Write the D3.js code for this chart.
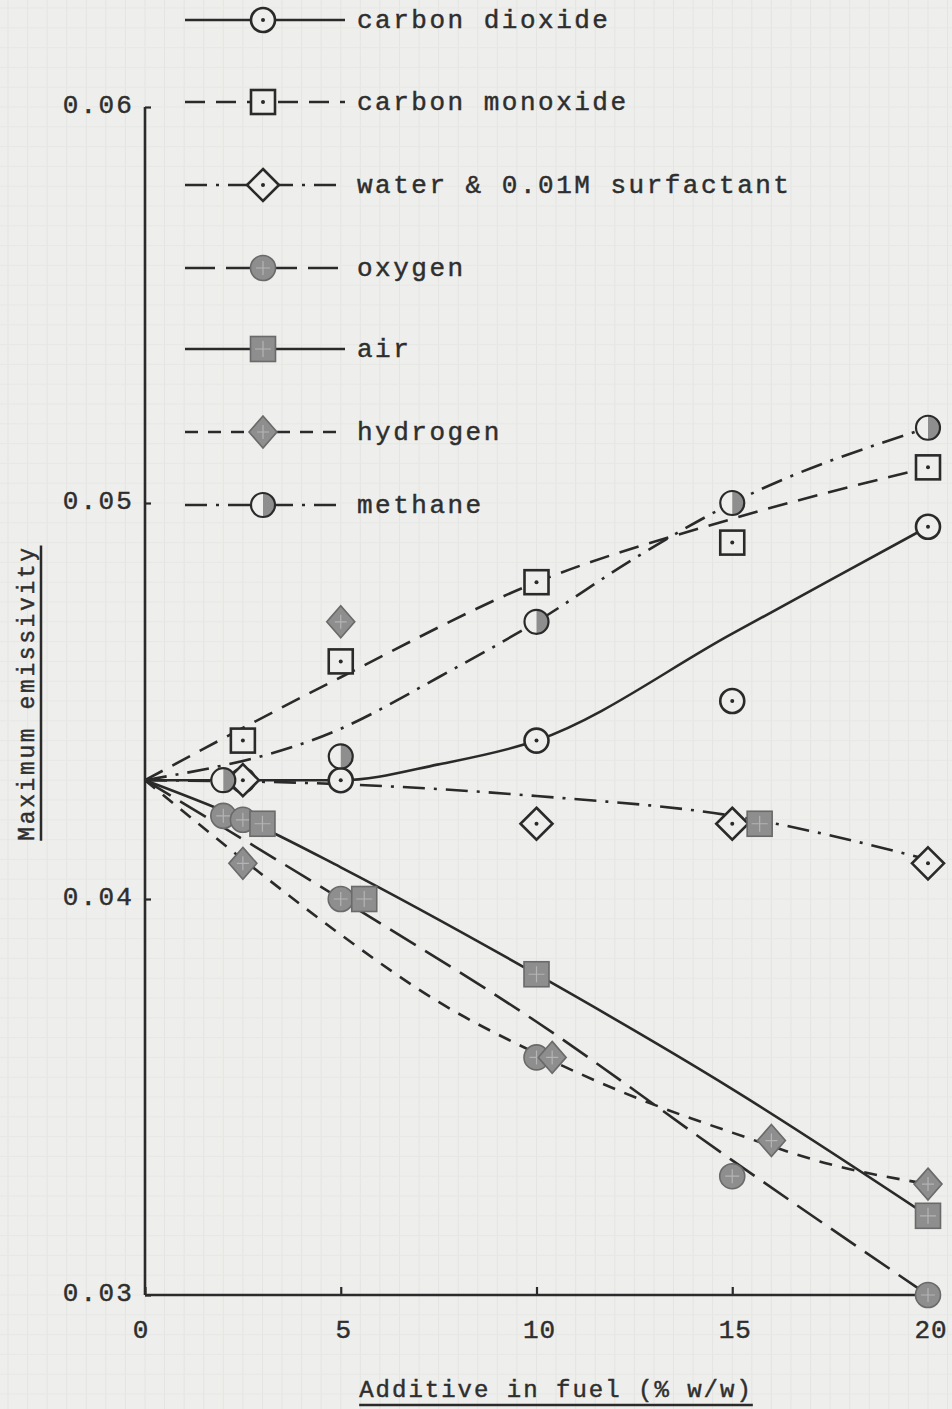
<!DOCTYPE html>
<html>
<head>
<meta charset="utf-8">
<script src="https://cdn.jsdelivr.net/npm/d3@7"></script>
<style>
  html, body { margin: 0; padding: 0; background: #eeeeec; }
  svg { display: block; }
  text { font-family: "Liberation Mono", "DejaVu Sans Mono", monospace; fill: #2e2e2e; stroke: #2e2e2e; stroke-width: 0.45px; }
</style>
</head>
<body>
<svg id="chart" width="952" height="1409"></svg>
<script>
// Series names, in legend order
const categories = [
  "carbon dioxide",
  "carbon monoxide",
  "water & 0.01M surfactant",
  "oxygen",
  "air",
  "hydrogen",
  "methane"
];

// Measured points [additive % w/w, maximum emissivity]
const co2Points      = [[2.5, 0.0430], [5, 0.0430], [10, 0.0440], [15, 0.0450], [20, 0.0494]];
const coPoints       = [[2.5, 0.0440], [5, 0.0460], [10, 0.0480], [15, 0.0490], [20, 0.0509]];
const waterPoints    = [[2.5, 0.0430], [10, 0.0419], [15, 0.0419], [20, 0.0409]];
const oxygenPoints   = [[2, 0.0421], [2.5, 0.0420], [5, 0.0400], [10, 0.0360], [15, 0.0330], [20, 0.0300]];
const airPoints      = [[3, 0.0419], [5.6, 0.0400], [10, 0.0381], [15.7, 0.0419], [20, 0.0320]];
const hydrogenPoints = [[2.5, 0.0409], [5, 0.0470], [10.4, 0.0360], [16, 0.0339], [20, 0.0328]];
const methanePoints  = [[2, 0.0430], [5, 0.0436], [10, 0.0470], [15, 0.0500], [20, 0.0519]];

// Hand-fitted curves through each series, all starting from the additive-free fuel value
const co2Curve      = [[0, 0.0430], [5, 0.0430], [7.5, 0.0434], [10, 0.0440], [15, 0.0467], [20, 0.0494]];
const coCurve       = [[0, 0.0430], [5, 0.0456], [10, 0.0480], [15, 0.0496], [20, 0.0509]];
const waterCurve    = [[0, 0.0430], [5, 0.0429], [10, 0.0426], [15, 0.0421], [20, 0.0410]];
const oxygenCurve   = [[0, 0.0430], [5, 0.0400], [10, 0.0369], [15, 0.0334], [20, 0.0300]];
const airCurve      = [[0, 0.0430], [3, 0.0418], [5, 0.0408], [10, 0.0381], [15, 0.0352], [20, 0.0320]];
const hydrogenCurve = [[0, 0.0430], [2.5, 0.0410], [5, 0.0391], [7.5, 0.0374], [10, 0.0361], [12.5, 0.0350], [15, 0.0341], [17.5, 0.0333], [20, 0.0328]];
const methaneCurve  = [[0, 0.0430], [5, 0.0443], [7.5, 0.0456], [10, 0.0470], [12.5, 0.0486], [15, 0.0500], [20, 0.0519]];

// Axis ticks
const xTicks = [0, 5, 10, 15, 20];
const yTicks = [0.03, 0.04, 0.05, 0.06];
const yTickLabels = ["0.03", "0.04", "0.05", "0.06"];

const xTitle = "Additive in fuel (% w/w)";
const yTitle = "Maximum emissivity";

// Series styling (line dash + marker)
const styles = {
  "carbon dioxide":           { dash: null,            marker: "circleOpen" },
  "carbon monoxide":          { dash: "20,11",         marker: "squareOpen" },
  "water & 0.01M surfactant": { dash: "22,9,3,9",      marker: "diamondOpen" },
  "oxygen":                   { dash: "30,11",         marker: "circleFilled" },
  "air":                      { dash: null,            marker: "squareFilled" },
  "hydrogen":                 { dash: "13,10",         marker: "diamondFilled" },
  "methane":                  { dash: "22,9,3,9",      marker: "circleHalf" }
};

const series = [
  { name: categories[0], points: co2Points,      curve: co2Curve },
  { name: categories[1], points: coPoints,       curve: coCurve },
  { name: categories[2], points: waterPoints,    curve: waterCurve },
  { name: categories[3], points: oxygenPoints,   curve: oxygenCurve },
  { name: categories[4], points: airPoints,      curve: airCurve },
  { name: categories[5], points: hydrogenPoints, curve: hydrogenCurve },
  { name: categories[6], points: methanePoints,  curve: methaneCurve }
];

const svg = d3.select("#chart");
const W = 952, H = 1409;
const ink = "#2a2a2a";
const paper = "#eeeeec";

const x = d3.scaleLinear().domain([0, 20]).range([145, 928]);
const y = d3.scaleLinear().domain([0.03, 0.06]).range([1295, 107]);

// Faint graph-paper ruling
const paperG = svg.append("g");
paperG.selectAll("line.v").data(d3.range(-7, 49)).join("line")
  .attr("x1", d => x(d * 0.5)).attr("x2", d => x(d * 0.5))
  .attr("y1", 0).attr("y2", H)
  .attr("stroke", "#e4e4e2").attr("stroke-width", 1);
paperG.selectAll("line.h").data(d3.range(-5, 75)).join("line")
  .attr("y1", d => y(0.03 + d * 0.0005)).attr("y2", d => y(0.03 + d * 0.0005))
  .attr("x1", 0).attr("x2", W)
  .attr("stroke", "#e7e7e5").attr("stroke-width", 1);

// Axes
const axisG = svg.append("g");
axisG.append("line")
  .attr("x1", x(0)).attr("x2", x(0)).attr("y1", y(0.06)).attr("y2", y(0.03))
  .attr("stroke", ink).attr("stroke-width", 2.6);
axisG.append("line")
  .attr("x1", x(0)).attr("x2", x(20)).attr("y1", y(0.03)).attr("y2", y(0.03))
  .attr("stroke", ink).attr("stroke-width", 2.6);

const xAxis = d3.axisTop(x).tickValues(xTicks).tickSize(8).tickFormat("");
const xg = axisG.append("g").attr("transform", `translate(0,${y(0.03)})`).call(xAxis);
xg.select(".domain").remove();
xg.selectAll(".tick line").attr("stroke", ink).attr("stroke-width", 2.2);

const yAxis = d3.axisRight(y).tickValues(yTicks).tickSize(6).tickFormat("");
const yg = axisG.append("g").attr("transform", `translate(${x(0)},0)`).call(yAxis);
yg.select(".domain").remove();
yg.selectAll(".tick line").attr("stroke", ink).attr("stroke-width", 2.2);

// Tick labels
axisG.selectAll("text.xt").data(xTicks).join("text")
  .attr("x", d => x(d) + (d === 0 ? -4 : 3))
  .attr("y", 1338)
  .attr("text-anchor", "middle")
  .attr("font-size", 26)
  .attr("letter-spacing", 1)
  .text(d => d);

axisG.selectAll("text.yt").data(yTicks).join("text")
  .attr("x", 134)
  .attr("y", d => y(d) + 6)
  .attr("text-anchor", "end")
  .attr("font-size", 26)
  .attr("letter-spacing", 2.2)
  .text((d, i) => yTickLabels[i]);

// Axis titles, underlined
const xt = axisG.append("text")
  .attr("x", 556).attr("y", 1397)
  .attr("text-anchor", "middle")
  .attr("font-size", 24)
  .attr("letter-spacing", 2.0)
  .text(xTitle);
const xtw = xt.node().getComputedTextLength();
axisG.append("line")
  .attr("x1", 556 - xtw / 2).attr("x2", 556 + xtw / 2)
  .attr("y1", 1405).attr("y2", 1405)
  .attr("stroke", ink).attr("stroke-width", 2.5);

const yt = axisG.append("text")
  .attr("transform", "translate(34,693) rotate(-90)")
  .attr("text-anchor", "middle")
  .attr("font-size", 23)
  .attr("letter-spacing", 2.6)
  .text(yTitle);
const ytw = yt.node().getComputedTextLength();
axisG.append("line")
  .attr("x1", 41).attr("x2", 41)
  .attr("y1", 693 - ytw / 2).attr("y2", 693 + ytw / 2)
  .attr("stroke", ink).attr("stroke-width", 2.5);

// Fitted lines
const line = d3.line()
  .x(d => x(d[0]))
  .y(d => y(d[1]))
  .curve(d3.curveMonotoneX);

const linesG = svg.append("g");
series.forEach(s => {
  linesG.append("path")
    .attr("d", line(s.curve))
    .attr("fill", "none")
    .attr("stroke", ink)
    .attr("stroke-width", 2.6)
    .attr("stroke-dasharray", styles[s.name].dash)
    .attr("stroke-linecap", "butt");
});

// Marker drawing
const grayFill = "#8e8e8e";
const grayEdge = "#6a6a6a";

function drawMarker(g, type, cx, cy) {
  const m = g.append("g").attr("transform", `translate(${cx},${cy})`);
  if (type === "circleOpen") {
    m.append("circle").attr("r", 12).attr("fill", paper).attr("stroke", ink).attr("stroke-width", 2.6);
    m.append("circle").attr("r", 2).attr("fill", ink);
  } else if (type === "squareOpen") {
    m.append("rect").attr("x", -12).attr("y", -12).attr("width", 24).attr("height", 24)
      .attr("fill", paper).attr("stroke", ink).attr("stroke-width", 2.6);
    m.append("circle").attr("r", 2).attr("fill", ink);
  } else if (type === "diamondOpen") {
    m.append("path").attr("d", "M0,-16L16,0L0,16L-16,0Z")
      .attr("fill", paper).attr("stroke", ink).attr("stroke-width", 2.6);
    m.append("circle").attr("r", 2).attr("fill", ink);
  } else if (type === "circleFilled") {
    m.append("circle").attr("r", 12.5).attr("fill", grayFill).attr("stroke", grayEdge).attr("stroke-width", 1.6);
    m.append("path").attr("d", "M-7,0H7M0,-7V7").attr("stroke", "#b4b4b4").attr("stroke-width", 1.2);
  } else if (type === "squareFilled") {
    m.append("rect").attr("x", -12.5).attr("y", -12.5).attr("width", 25).attr("height", 25)
      .attr("fill", grayFill).attr("stroke", grayEdge).attr("stroke-width", 1.6);
    m.append("path").attr("d", "M-8,0H8M0,-8V8").attr("stroke", "#b4b4b4").attr("stroke-width", 1.2);
  } else if (type === "diamondFilled") {
    m.append("path").attr("d", "M0,-16L14,0L0,16L-14,0Z")
      .attr("fill", grayFill).attr("stroke", grayEdge).attr("stroke-width", 1.6);
    m.append("path").attr("d", "M-6,0H6M0,-7V7").attr("stroke", "#b4b4b4").attr("stroke-width", 1.2);
  } else if (type === "circleHalf") {
    m.append("circle").attr("r", 12).attr("fill", paper);
    m.append("path").attr("d", "M0,-12A12,12 0 0,1 0,12Z").attr("fill", grayFill);
    m.append("circle").attr("r", 12).attr("fill", "none").attr("stroke", ink).attr("stroke-width", 2.2);
  }
  return m;
}

const markersG = svg.append("g");
series.forEach(s => {
  s.points.forEach(p => drawMarker(markersG, styles[s.name].marker, x(p[0]), y(p[1])));
});

// Legend
const legendRows = [20, 102, 185, 268, 349, 432, 505];
const legendG = svg.append("g");
categories.forEach((name, i) => {
  const ry = legendRows[i];
  legendG.append("line")
    .attr("x1", 185).attr("x2", 345).attr("y1", ry).attr("y2", ry)
    .attr("stroke", ink).attr("stroke-width", 2.6)
    .attr("stroke-dasharray", styles[name].dash);
  drawMarker(legendG, styles[name].marker, 263, ry);
  legendG.append("text")
    .attr("x", 357).attr("y", ry + 8)
    .attr("font-size", 26)
    .attr("letter-spacing", 2.5)
    .text(name);
});
</script>
</body>
</html>
